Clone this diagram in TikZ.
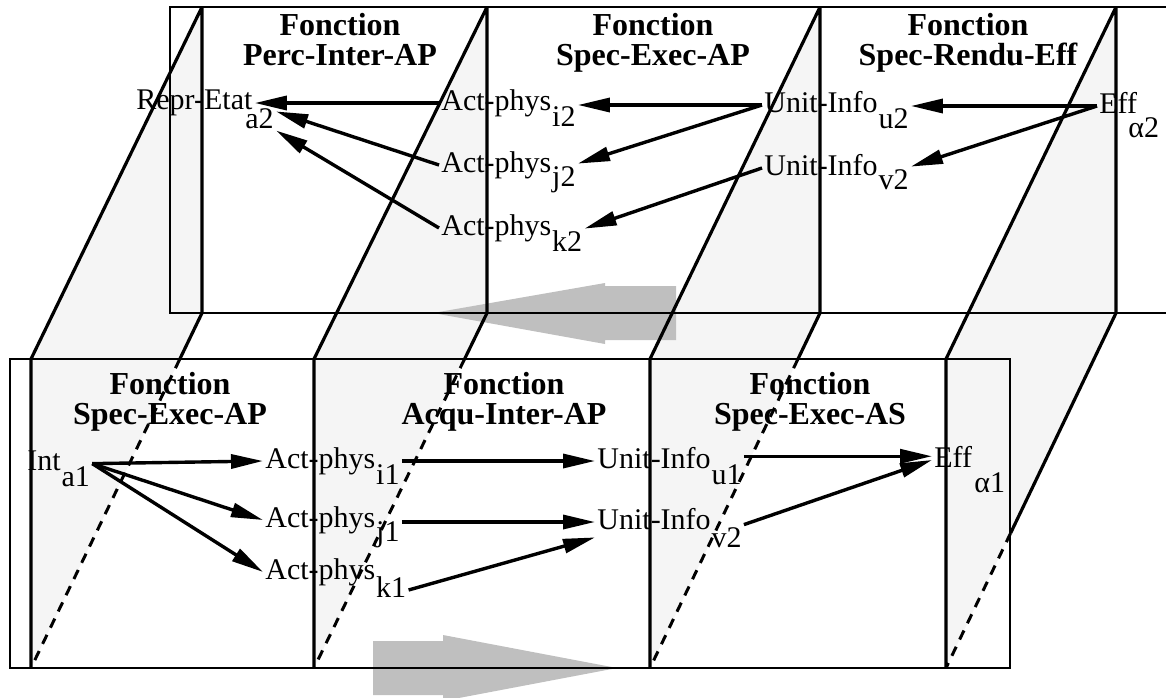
\documentclass[tikz,border=0pt]{standalone}
\usepackage{fontspec}
\setmainfont{Liberation Serif}
\usetikzlibrary{arrows.meta,calc}

\begin{document}
\begin{tikzpicture}[x=0.5pt, y=-0.5pt,
    lbl/.style={font=\fontsize{15}{18}\selectfont, inner sep=1pt, anchor=base west,
        text height=10pt, text depth=3pt},
    titre/.style={font=\fontsize{16}{15}\selectfont\bfseries, align=center,
        inner sep=0pt, anchor=base},
    plan/.style={line width=1pt},
    arete/.style={line width=1.6pt},
    cache/.style={line width=1.5pt, dash pattern=on 5pt off 4pt},
    feuille/.style={fill=black!4},
    grosse/.style={fill=black!25},
    fleche/.style={line width=1.7pt, -{Triangle[length=16pt, width=7pt]}}]

    \useasboundingbox (0,0) rectangle (1166,697);
    \clip (0,0) rectangle (1166,697);

    % 连接面
    \foreach \xt/\xb in {202/31, 487/314, 820/650, 1116/946}
        \fill[feuille] (\xt,7) -- (\xt,313) -- (\xb,668) -- (\xb,359) -- cycle;

    % 灰色大箭头
    \fill[grosse] (676,286) -- (605,286) -- (605,283) -- (433,313)
        -- (605,344) -- (605,340) -- (676,340) -- cycle;
    \fill[grosse] (373,641) -- (443,641) -- (443,635) -- (617,668)
        -- (443,701) -- (443,695) -- (373,695) -- cycle;

    % 两个平面
    \draw[plan] (170,7) rectangle (1180,313);
    \draw[plan] (10,359) rectangle (1010,668);

    % 连接面的边
    \foreach \xt/\xb/\fr in {202/31/0.13, 487/314/0.13, 820/650/0.13, 1116/946/0.62} {
        \draw[arete] (\xt,7) -- (\xt,313) (\xb,359) -- (\xb,668)
            (\xt,7) -- (\xb,359) (\xt,313) -- ($(\xt,313)!\fr!(\xb,668)$);
        \draw[cache] ($(\xt,313)!\fr!(\xb,668)$) -- (\xb,668);
    }

    % 上层标题
    \node[titre] (t1) at (340,65) {Fonction\\Perc-Inter-AP};
    \node[titre] (t2) at (653,65) {Fonction\\Spec-Exec-AP};
    \node[titre] (t3) at (968,65) {Fonction\\Spec-Rendu-Eff};

    % 下层标题
    \node[titre] (b1) at (170,424) {Fonction\\Spec-Exec-AP};
    \node[titre] (b2) at (504,424) {Fonction\\Acqu-Inter-AP};
    \node[titre] (b3) at (810,424) {Fonction\\Spec-Exec-AS};

    % 上层元素
    \node[lbl] (repr) at (134,109) {Repr-Etat};
    \node[lbl] (repra) at (243,128) {a2};
    \node[lbl] (ai2) at (439,110) {Act-phys};
    \node[lbl] (ai2s) at ([xshift=-2pt,yshift=-8pt]ai2.base east) {i2};
    \node[lbl] (aj2) at (439,172) {Act-phys};
    \node[lbl] (aj2s) at ([xshift=-2pt,yshift=-7pt]aj2.base east) {j2};
    \node[lbl] (ak2) at (439,235) {Act-phys};
    \node[lbl] (ak2s) at ([xshift=-2pt,yshift=-8pt]ak2.base east) {k2};
    \node[lbl] (uu2) at (762,112) {Unit-Info};
    \node[lbl] (uu2s) at ([xshift=-2pt,yshift=-8pt]uu2.base east) {u2};
    \node[lbl] (uv2) at (762,175) {Unit-Info};
    \node[lbl] (uv2s) at ([xshift=-2pt,yshift=-7pt]uv2.base east) {v2};
    \node[lbl] (eff2) at (1097,113) {Eff};
    \node[lbl] (eff2s) at (1126,137) {α2};

    % 下层元素
    \node[lbl] (int) at (25,470) {Int};
    \node[lbl] (inta) at ([xshift=-2pt,yshift=-8pt]int.base east) {a1};
    \node[lbl] (ai1) at (263,468) {Act-phys};
    \node[lbl] (ai1s) at ([xshift=-2pt,yshift=-8pt]ai1.base east) {i1};
    \node[lbl] (aj1) at (263,527) {Act-phys};
    \node[lbl] (aj1s) at ([xshift=-2pt,yshift=-7pt]aj1.base east) {j1};
    \node[lbl] (ak1) at (263,579) {Act-phys};
    \node[lbl] (ak1s) at ([xshift=-2pt,yshift=-9pt]ak1.base east) {k1};
    \node[lbl] (uu1) at (595,468) {Unit-Info};
    \node[lbl] (uu1s) at ([xshift=-2pt,yshift=-8pt]uu1.base east) {u1};
    \node[lbl] (uv1) at (595,529) {Unit-Info};
    \node[lbl] (uv1s) at ([xshift=-2pt,yshift=-9pt]uv1.base east) {v2};
    \node[lbl] (eff1) at (932,467) {Eff};
    \node[lbl] (eff1s) at (972,492) {α1};

    % 上层箭头（向左）
    \draw[fleche] (ai2.west) -- (ai2.west -| repr.east);
    \draw[fleche] (aj2.west) -- (repra.30);
    \draw[fleche] (ak2.west) -- (repra.-30);
    \draw[fleche] (uu2.west) -- (uu2.west -| ai2s.east);
    \draw[fleche] (uu2.west) -- (aj2s.north east);
    \draw[fleche] (uv2.west) -- (ak2s.north east);
    \draw[fleche] (eff2.west) -- (eff2.west -| uu2s.east);
    \draw[fleche] (eff2.west) -- (uv2s.north east);

    % 下层箭头（向右）
    \draw[fleche] (inta.north east) -- (ai1.west);
    \draw[fleche] (inta.north east) -- (aj1.west);
    \draw[fleche] (inta.north east) -- (ak1.west);
    \draw[fleche] (ai1s.north east |- uu1.west) -- (uu1.west);
    \draw[fleche] (aj1s.north east |- uv1.west) -- (uv1.west);
    \draw[fleche] (ak1s.east) -- (uv1.south west);
    \draw[fleche] (uu1s.north east |- eff1.170) -- (eff1.170);
    \draw[fleche] (uv1s.north east) -- (eff1.west);
\end{tikzpicture}
\end{document}
